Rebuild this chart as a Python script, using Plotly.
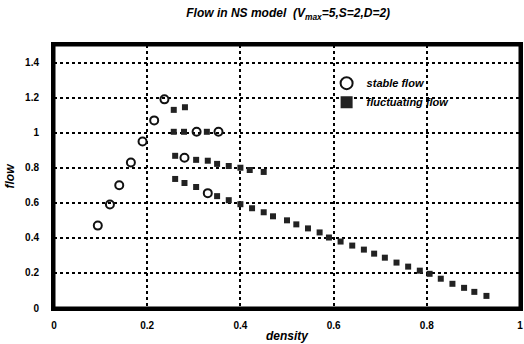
import plotly.graph_objects as go

# stable flow (open circles)
stable_x = [0.094, 0.12, 0.14, 0.165, 0.19, 0.215, 0.237, 0.306, 0.353, 0.28, 0.33]
stable_y = [0.47, 0.59, 0.70, 0.83, 0.95, 1.07, 1.19, 1.005, 1.005, 0.857, 0.655]

# fluctuating flow (filled squares)
fluct_top_x = [0.257, 0.281]
fluct_top_y = [1.13, 1.145]
fluct_mid_x = [0.257, 0.279, 0.328]
fluct_mid_y = [1.005, 1.005, 1.005]
fluct_upper_x = [0.26, 0.305, 0.33, 0.35, 0.375, 0.40, 0.42, 0.45]
fluct_upper_y = [0.868, 0.845, 0.84, 0.822, 0.81, 0.80, 0.787, 0.776]
fluct_lower_x = [0.26, 0.28, 0.305, 0.35, 0.375, 0.40, 0.425, 0.45, 0.47, 0.50,
                 0.52, 0.545, 0.57, 0.59, 0.615, 0.64, 0.665, 0.687, 0.71, 0.735,
                 0.76, 0.785, 0.806, 0.83, 0.855, 0.88, 0.902, 0.928]
fluct_lower_y = [0.736, 0.713, 0.690, 0.638, 0.615, 0.592, 0.569, 0.546, 0.523, 0.500,
                 0.477, 0.454, 0.431, 0.402, 0.379, 0.356, 0.333, 0.310, 0.287, 0.259,
                 0.236, 0.213, 0.195, 0.167, 0.138, 0.115, 0.092, 0.069]

fluct_x = fluct_top_x + fluct_mid_x + fluct_upper_x + fluct_lower_x
fluct_y = fluct_top_y + fluct_mid_y + fluct_upper_y + fluct_lower_y

x_ticks = [0, 0.2, 0.4, 0.6, 0.8, 1]
y_ticks = [0, 0.2, 0.4, 0.6, 0.8, 1, 1.2, 1.4]
x_ticklabels = ["0", "0.2", "0.4", "0.6", "0.8", "1"]
y_ticklabels = ["0", "0.2", "0.4", "0.6", "0.8", "1", "1.2", "1.4"]

fig = go.Figure()
fig.add_trace(go.Scatter(
    x=stable_x, y=stable_y, mode="markers", name="stable flow",
    marker=dict(symbol="circle-open", size=8, color="#111", line=dict(width=2)),
))
fig.add_trace(go.Scatter(
    x=fluct_x, y=fluct_y, mode="markers", name="fluctuating flow",
    marker=dict(symbol="square", size=6, color="#222"),
))

font_family = "Liberation Sans, Arial, sans-serif"
fig.update_layout(
    width=524, height=344,
    margin=dict(l=54, r=4, t=45, b=36),
    paper_bgcolor="white", plot_bgcolor="white",
    title=dict(
        text="Flow in NS model  (V<sub>max</sub>=5,S=2,D=2)",
        x=0.55, xanchor="center", y=0.962, yanchor="middle",
        font=dict(family=font_family, size=12, color="black", style="italic", weight="bold"),
    ),
    showlegend=True,
    legend=dict(
        x=0.585, y=0.91, xanchor="left", yanchor="top",
        bgcolor="rgba(0,0,0,0)", borderwidth=0, itemwidth=30,
        font=dict(family=font_family, size=11, color="black", style="italic", weight="bold"),
        itemsizing="constant", tracegroupgap=2,
    ),
    xaxis=dict(
        range=[0, 1], tickvals=x_ticks, ticktext=x_ticklabels,
        showgrid=True, gridcolor="black", griddash="dot", gridwidth=1.5,
        showline=True, mirror=True, linecolor="black", linewidth=3,
        zeroline=False, ticks="", ticklabelstandoff=6, automargin=False,
        tickfont=dict(family=font_family, size=10, color="black", weight="bold"),
        title=dict(text="density", standoff=2,
                   font=dict(family=font_family, size=12, color="black", style="italic", weight="bold")),
    ),
    yaxis=dict(
        range=[0, 1.5], tickvals=y_ticks, ticktext=y_ticklabels,
        showgrid=True, gridcolor="black", griddash="dot", gridwidth=1.5,
        showline=True, mirror=True, linecolor="black", linewidth=3,
        zeroline=False, ticks="", ticklabelstandoff=10, automargin=False,
        tickfont=dict(family=font_family, size=10, color="black", weight="bold"),
        title=dict(text="flow", standoff=8,
                   font=dict(family=font_family, size=12, color="black", style="italic", weight="bold")),
    ),
    shapes=[dict(type="rect", xref="paper", yref="paper", x0=0, y0=0, x1=1, y1=1,
                 line=dict(color="black", width=3), layer="above")],
)

fig.write_html(
    "out.html",
    config={"displayModeBar": False},
    post_script="document.body.style.margin='0';document.body.style.padding='0';",
)
